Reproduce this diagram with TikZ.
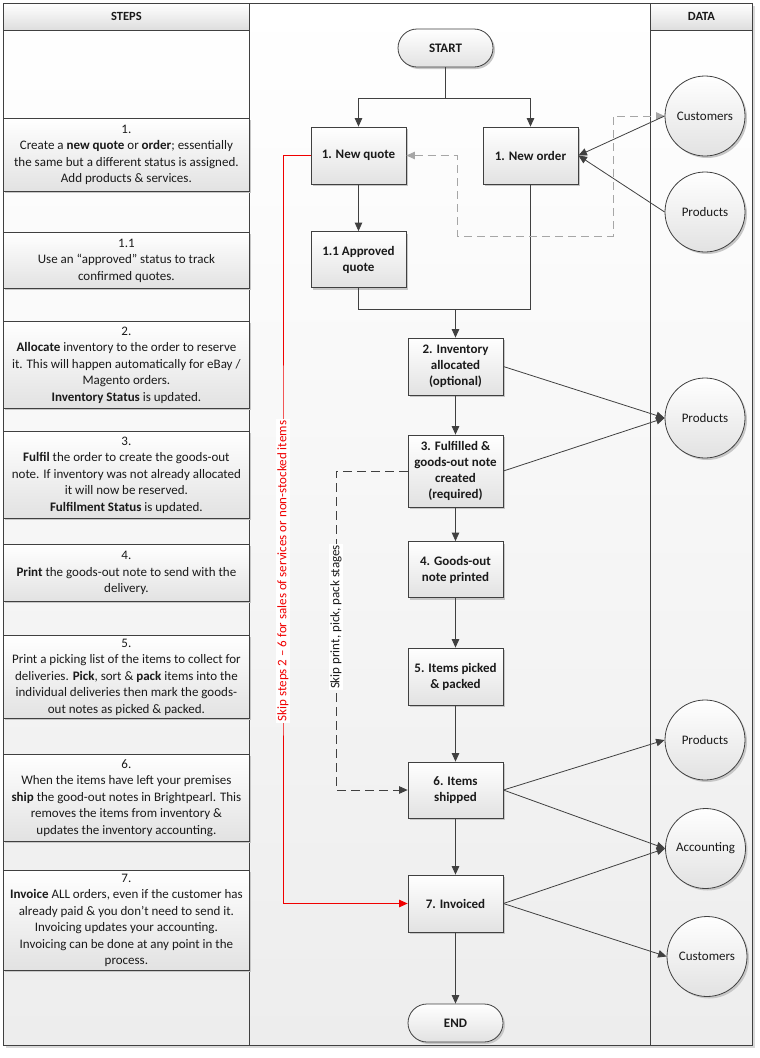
\documentclass[tikz,border=0pt]{standalone}
\usepackage{fontspec}
\setmainfont{Carlito}
\usetikzlibrary{arrows.meta,shadows}
\definecolor{linec}{HTML}{404040}
\definecolor{txtc}{HTML}{1A1A1A}
\definecolor{boxb}{HTML}{E2E2E2}
\definecolor{laneb}{HTML}{EDEDED}
\definecolor{hdrb}{HTML}{DDDDDD}
\definecolor{dgray}{HTML}{A6A6A6}
\definecolor{redl}{HTML}{F00000}
\begin{document}
\begin{tikzpicture}[x=1pt,y=-1pt,
  every node/.style={font=\fontsize{13}{16.5}\selectfont, text=txtc},
  shad/.style={drop shadow={shadow xshift=2pt, shadow yshift=-2pt, fill=black!22, opacity=1}},
  hdr/.style={draw=linec, line width=0.8pt, anchor=north west, minimum height=27pt, inner sep=0pt,
    top color=white, bottom color=hdrb, font=\bfseries\fontsize{12.5}{15}\selectfont},
  stepbox/.style={draw=linec, line width=0.8pt, anchor=north west, minimum width=246pt, inner sep=0.5pt,
    top color=white, bottom color=boxb, align=center, shad},
  proc/.style={draw=linec, line width=0.8pt, rectangle, minimum width=95pt, minimum height=57pt, inner sep=1pt,
    top color=white, bottom color=boxb, align=center, font=\bfseries\fontsize{13}{16}\selectfont, shad},
  term/.style={proc, minimum height=38pt, rounded corners=19pt},
  datac/.style={draw=linec, line width=0.8pt, circle, minimum size=80pt, inner sep=0pt,
    top color=white, bottom color=boxb, shad},
  conn/.style={draw=linec, line width=0.8pt},
  arr/.style={conn, -{Triangle[length=8.5pt,width=7.5pt]}},
  lbl/.style={rotate=90, fill=white, inner sep=1.5pt}
]
\useasboundingbox (0,0) rectangle (760,1058);
\fill[white] (0,0) rectangle (760,1058);
% frame shadow
\fill[black!15] (6,6) rectangle (755,1048);
% lanes
\fill[top color=white, bottom color=laneb] (3,3) rectangle (752,1045);
\draw[linec, line width=0.8pt] (3,3) rectangle (752,1045);
\draw[linec, line width=0.8pt] (249,3) -- (249,1045);
\draw[linec, line width=0.8pt] (650,3) -- (650,1045);
% headers
\node[hdr, minimum width=246pt] (steps) at (3,3) {STEPS};
\node[hdr, minimum width=102pt] (data) at (650,3) {DATA};

% left step descriptions
\node[stepbox, minimum height=73pt] (s1) at (3,118) {1.\\Create a \textbf{new quote} or \textbf{order}; essentially\\the same but a different status is assigned.\\Add products \& services.};
\node[stepbox, minimum height=56pt] (s11) at (3,232) {1.1\\Use an “approved” status to track\\confirmed quotes.};
\node[stepbox, minimum height=87pt] (s2) at (3,321) {2.\\\textbf{Allocate} inventory to the order to reserve\\it. This will happen automatically for eBay /\\Magento orders.\\\textbf{Inventory Status} is updated.};
\node[stepbox, minimum height=87pt] (s3) at (3,431) {3.\\\textbf{Fulfil} the order to create the goods-out\\note. If inventory was not already allocated\\it will now be reserved.\\\textbf{Fulfilment Status} is updated.};
\node[stepbox, minimum height=57pt] (s4) at (3,544) {4.\\\textbf{Print} the goods-out note to send with the\\delivery.};
\node[stepbox, minimum height=83pt] (s5) at (3,635) {5.\\Print a picking list of the items to collect for\\deliveries. \textbf{Pick}, sort \& \textbf{pack} items into the\\individual deliveries then mark the goods-\\out notes as picked \& packed.};
\node[stepbox, minimum height=87pt] (s6) at (3,754) {6.\\When the items have left your premises\\\textbf{ship} the good-out notes in Brightpearl. This\\removes the items from inventory \&\\updates the inventory accounting.};
\node[stepbox, minimum height=100pt] (s7) at (3,870) {7.\\\textbf{Invoice} ALL orders, even if the customer has\\already paid \& you don’t need to send it.\\Invoicing updates your accounting.\\Invoicing can be done at any point in the\\process.};

% process nodes
\node[term] (start) at (445.5,48) {START};
\node[proc] (nq) at (358.5,155.5) {1. New quote};
\node[proc] (no) at (530.5,155.5) {1. New order};
\node[proc, minimum height=56pt] (aq) at (358.5,259.5) {1.1 Approved\\quote};
\node[proc] (inv) at (455.5,366.5) {2. Inventory\\allocated\\(optional)};
\node[proc, minimum height=72pt] (ful) at (455.5,471) {3. Fulfilled \&\\goods-out note\\created\\(required)};
\node[proc, minimum height=56pt] (gp) at (455.5,569.5) {4. Goods-out\\note printed};
\node[proc] (pp) at (455.5,676.5) {5. Items picked\\\& packed};
\node[proc, minimum height=56pt] (sh) at (455.5,790) {6. Items\\shipped};
\node[proc] (invd) at (455.5,903.5) {7. Invoiced};
\node[term] (end) at (455.5,1023) {END};

% data stores
\node[datac] (cust1) at (705,116) {Customers};
\node[datac] (prod1) at (705,212) {Products};
\node[datac] (prod2) at (705,418) {Products};
\node[datac] (prod3) at (705,740) {Products};
\node[datac] (acc) at (705.5,848.5) {Accounting};
\node[datac] (cust2) at (707,956.5) {Customers};

% helper coordinates
\coordinate (split) at (445.5,98);
\coordinate (merge) at (455.5,309);
\coordinate (g1) at (457,236);
\coordinate (g2) at (613,116);
\coordinate (rc) at (283,571);
\coordinate (dc) at (336,617);

% main flow
\draw[conn] (start) -- (split);
\draw[arr] (split) -| (nq);
\draw[arr] (split) -| (no);
\draw[arr] (nq) -- (aq);
\draw[conn] (aq.south) |- (merge);
\draw[conn] (no.south) |- (merge);
\draw[arr] (merge) -- (inv);
\draw[arr] (inv) -- (ful);
\draw[arr] (ful) -- (gp);
\draw[arr] (gp) -- (pp);
\draw[arr] (pp) -- (sh);
\draw[arr] (sh) -- (invd);
\draw[arr] (invd) -- (end);

% data links
\draw[draw=dgray, line width=0.8pt, dash pattern=on 8pt off 5pt,
  {Triangle[length=8.5pt,width=7.5pt]}-{Triangle[length=8.5pt,width=7.5pt]}]
  (nq.east) -| (g1) -| (g2) -- (cust1.west);
\draw[arr] (cust1.west) -- (no.east);
\draw[arr] (prod1.west) -- (no.east);
\draw[arr] (inv.east) -- (prod2.west);
\draw[arr] (ful.east) -- (prod2.west);
\draw[arr] (sh.east) -- (prod3.west);
\draw[arr] (sh.east) -- (acc.west);
\draw[arr] (invd.east) -- (acc.west);
\draw[arr] (invd.east) -- (cust2.west);

% skips
\draw[arr, dash pattern=on 9pt off 5pt] (ful.west) -| (dc) |- (sh.west);
\node[lbl] (dlab) at (dc) {Skip print, pick, pack stages};
\draw[draw=redl, line width=0.8pt, -{Triangle[length=8.5pt,width=7.5pt]}] (nq.west) -| (rc) |- (invd.west);
\node[lbl, text=redl] (rlab) at (rc) {Skip steps 2 – 6 for sales of services or non-stocked items};
\end{tikzpicture}
\end{document}
